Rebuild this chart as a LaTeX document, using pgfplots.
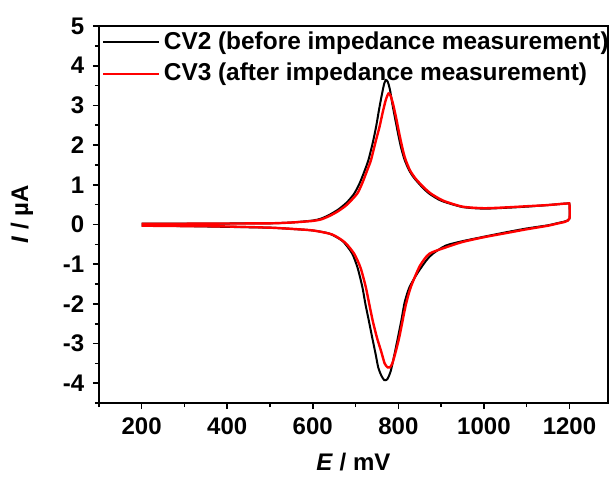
\documentclass[border=0pt]{standalone}
\usepackage{fontspec}
\setmainfont{Liberation Sans}
\usepackage{pgfplots}
\pgfplotsset{compat=1.18}
\begin{document}
\fontsize{12.2}{14.6}\selectfont\bfseries
\begin{tikzpicture}
\useasboundingbox (-49.4pt,-37pt) rectangle (257pt,201.5pt);
\begin{axis}[
  at={(0,0)}, anchor=south west,
  width=254.5pt, height=188.5pt, scale only axis,
  xmin=100, xmax=1290, ymin=-4.5, ymax=5,
  xtick={200,400,...,1200}, ytick={-4,-3,...,5},
  minor xtick={100,300,...,1300}, minor ytick={-4.5,-3.5,...,4.5},
  xtick pos=bottom, ytick pos=left, tick align=outside,
  major tick length=3pt, minor tick length=2pt,
  every tick/.style={black, line width=0.8pt},
  axis line style={line width=1pt},
  /pgf/number format/assume math mode=true,
  /pgf/number format/1000 sep={},
  tick label style={font=\fontsize{12}{14.4}\selectfont\bfseries},
  label style={font=\fontsize{12}{14.4}\selectfont\bfseries},
  xlabel={\textit{E} / mV}, ylabel={\textit{I} / \textmu A},
  xlabel style={at={(axis description cs:0.5,0)}, anchor=base, yshift=-33.8pt},
  ylabel style={at={(axis description cs:-0.151,0.5)}, anchor=center},
  legend style={at={(axis description cs:0.004,0.999)}, anchor=north west, draw=none, fill=none,
    font=\fontsize{12.2}{14.6}\selectfont\bfseries, row sep=1pt, inner sep=0.5pt},
  legend cell align=left,
  legend image code/.code={\draw[#1] (0cm,0cm) -- (0.97cm,0cm);},
]
\addplot[black, line width=1pt, smooth, tension=0.4] coordinates {
(200,0.02) (300,0.02) (400,0.025) (500,0.03) (550,0.05) (600,0.1) (620,0.15)
(640,0.25) (660,0.38) (680,0.56) (697,0.78) (710,1.05) (720,1.32) (730,1.62)
(740,2.05) (748,2.46) (755,2.9) (762,3.3) (767,3.55) (771,3.64) (775,3.6)
(780,3.42) (787,2.98) (797,2.42) (805,2.0) (814,1.65) (825,1.37) (837,1.17)
(855,0.95) (872,0.78) (900,0.6) (950,0.44) (1000,0.40) (1050,0.42) (1100,0.45)
(1150,0.49) (1195,0.53) (1200,0.5) (1200,0.15)
(1190,0.08) (1170,0.03) (1150,-0.02) (1100,-0.1) (1050,-0.2) (990,-0.33)
(950,-0.42) (911,-0.53) (880,-0.74) (865,-0.91) (845,-1.22) (826,-1.58)
(815,-1.95) (807,-2.42) (799,-2.85) (791,-3.27) (782,-3.7) (774,-3.9)
(767,-3.92) (760,-3.8) (753,-3.6) (747,-3.27) (739,-2.85) (731,-2.42)
(723,-2.0) (716,-1.58) (705,-1.1) (692,-0.73) (670,-0.42) (639,-0.23)
(600,-0.15) (550,-0.11) (500,-0.08) (400,-0.06) (300,-0.04) (200,-0.03)
};
\addlegendentry{CV2 (before impedance measurement)}
\addplot[red, line width=1.2pt, smooth, tension=0.4] coordinates {
(200,0.02) (300,0.02) (400,0.025) (500,0.03) (550,0.05) (600,0.09) (620,0.13)
(640,0.22) (660,0.34) (680,0.5) (704,0.78) (716,1.05) (726,1.33) (736,1.62)
(746,2.05) (756,2.46) (764,2.85) (771,3.15) (777,3.30) (782,3.24) (788,3.02)
(795,2.68) (802,2.3) (809,1.95) (816,1.66) (827,1.37) (840,1.16) (858,0.95)
(876,0.78) (905,0.6) (950,0.45) (1000,0.41) (1050,0.43) (1100,0.46)
(1150,0.49) (1195,0.53) (1200,0.5) (1200,0.15)
(1190,0.07) (1170,0.02) (1150,-0.03) (1100,-0.12) (1050,-0.22) (1000,-0.32)
(950,-0.44) (910,-0.58) (872,-0.74) (850,-1.05) (829,-1.58) (818,-2.0)
(810,-2.42) (802,-2.85) (794,-3.2) (786,-3.5) (780,-3.6) (775,-3.6)
(768,-3.5) (760,-3.2) (750,-2.85) (740,-2.42) (732,-2.0) (724,-1.58)
(712,-1.1) (697,-0.74) (675,-0.45) (645,-0.25) (600,-0.15) (550,-0.11)
(500,-0.08) (400,-0.05) (300,-0.04) (200,-0.03)
};
\addlegendentry{CV3 (after impedance measurement)}
\end{axis}
\end{tikzpicture}
\end{document}
